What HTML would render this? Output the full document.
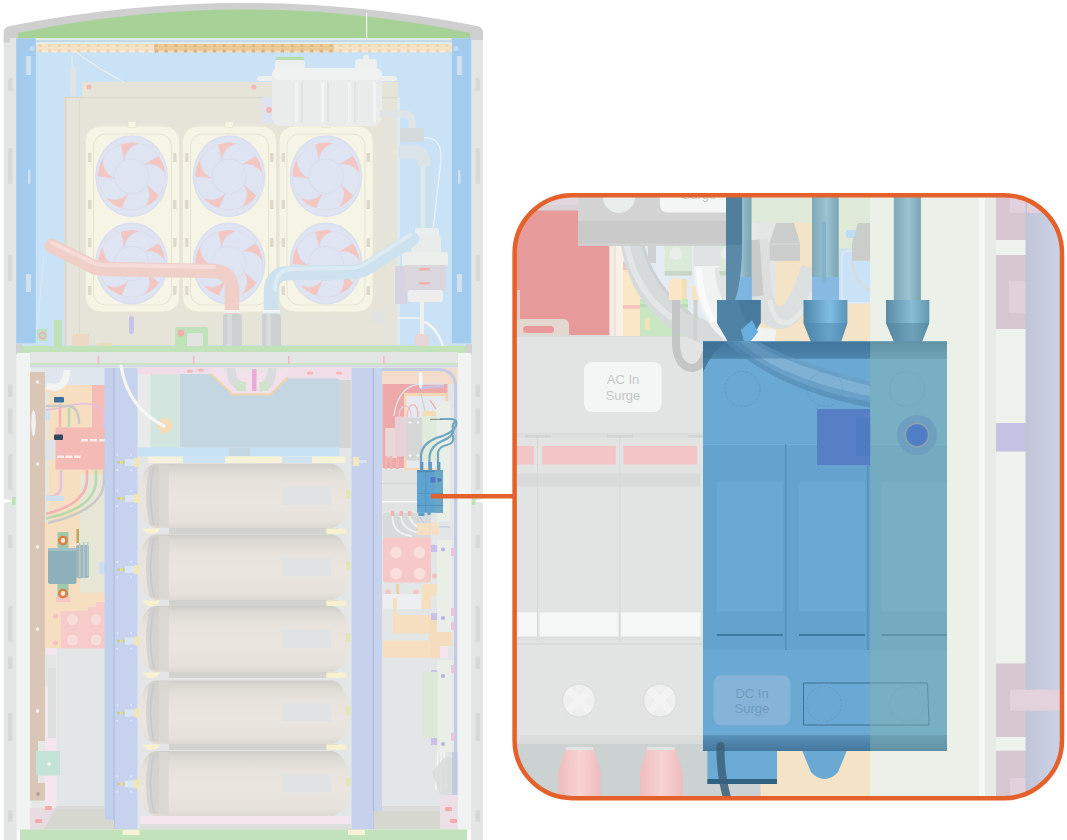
<!DOCTYPE html>
<html>
<head>
<meta charset="utf-8">
<title>DC In Surge</title>
<style>
html,body{margin:0;padding:0;background:#fff;}
body{width:1067px;height:840px;overflow:hidden;font-family:"Liberation Sans",sans-serif;}
svg{display:block;}
text{font-family:"Liberation Sans",sans-serif;}
</style>
</head>
<body>
<svg width="1067" height="840" viewBox="0 0 1067 840">
<defs>
  <clipPath id="callclip"><rect x="514.6" y="195.2" width="547.4" height="603" rx="58" ry="58"/></clipPath>
  <linearGradient id="tankg" x1="0" y1="0" x2="0" y2="1">
    <stop offset="0" stop-color="#cfcdc8"/><stop offset="0.1" stop-color="#dcd9d3"/><stop offset="0.28" stop-color="#e7e3dc"/><stop offset="0.6" stop-color="#eae6df"/><stop offset="0.9" stop-color="#e6e2db"/><stop offset="1" stop-color="#dddad3"/>
  </linearGradient>
  <linearGradient id="cableg" x1="0" y1="0" x2="1" y2="0">
    <stop offset="0" stop-color="#7fa9b8"/><stop offset="0.55" stop-color="#9bc3d2"/><stop offset="1" stop-color="#7aa3b3"/>
  </linearGradient>
  <linearGradient id="ferg" x1="0" y1="0" x2="1" y2="0">
    <stop offset="0" stop-color="#4f86a8"/><stop offset="0.6" stop-color="#7fbde2"/><stop offset="1" stop-color="#5a93b6"/>
  </linearGradient>
  <linearGradient id="ferg3" x1="0" y1="0" x2="1" y2="0">
    <stop offset="0" stop-color="#5a8ba3"/><stop offset="0.6" stop-color="#88bdd6"/><stop offset="1" stop-color="#6397b0"/>
  </linearGradient>
  <linearGradient id="lavg" x1="0" y1="0" x2="1" y2="0">
    <stop offset="0" stop-color="#c0c5d6"/><stop offset="0.5" stop-color="#c6cde0"/><stop offset="1" stop-color="#ccd4e8"/>
  </linearGradient>
  <g id="fan">
    <ellipse rx="36.3" ry="41" fill="#d9dff0"/>
    <ellipse rx="35" ry="39.5" fill="#dfe4f2"/>
    <circle r="33.6" fill="#f4c6c2"/>
    <g fill="#dee4f2" stroke="#d8deee" stroke-width="0.5">
      <path d="M-7.0,-14.4 Q-6.5,-28.3 7.5,-32.6 A33.5,33.5 0 0 1 26.8,-20.2 L11.5,-11.1 Z" transform="rotate(0)"/>
      <path d="M-7.0,-14.4 Q-6.5,-28.3 7.5,-32.6 A33.5,33.5 0 0 1 26.8,-20.2 L11.5,-11.1 Z" transform="rotate(72)"/>
      <path d="M-7.0,-14.4 Q-6.5,-28.3 7.5,-32.6 A33.5,33.5 0 0 1 26.8,-20.2 L11.5,-11.1 Z" transform="rotate(144)"/>
      <path d="M-7.0,-14.4 Q-6.5,-28.3 7.5,-32.6 A33.5,33.5 0 0 1 26.8,-20.2 L11.5,-11.1 Z" transform="rotate(216)"/>
      <path d="M-7.0,-14.4 Q-6.5,-28.3 7.5,-32.6 A33.5,33.5 0 0 1 26.8,-20.2 L11.5,-11.1 Z" transform="rotate(288)"/>
    </g>
    <circle r="17.6" fill="#d6ddec"/>
    <circle r="16.8" fill="#dee4f2"/>
  </g>
  <linearGradient id="bandg" x1="0" y1="0" x2="0" y2="1"><stop offset="0" stop-color="#457a9f"/><stop offset="1" stop-color="#5a94bd"/></linearGradient>
  <linearGradient id="bandg2" x1="0" y1="0" x2="0" y2="1"><stop offset="0" stop-color="#5a92ba"/><stop offset="1" stop-color="#44779d"/></linearGradient>
  <linearGradient id="pinkg" x1="0" y1="0" x2="1" y2="0"><stop offset="0" stop-color="#efbcbd"/><stop offset="0.5" stop-color="#f7d3d3"/><stop offset="1" stop-color="#efbcbd"/></linearGradient>
</defs>
<rect width="1067" height="840" fill="#ffffff"/>

<!-- ================= CABINET ================= -->
<g id="cabinet">
  <!-- outer frame sides -->
  <rect x="3.700" y="36" width="13" height="804" fill="#e3e6e5"/>
  <rect x="471" y="36" width="12" height="804" fill="#e3e6e5"/>
  <!-- top arc gray -->
  <path d="M3.700,42.500 L3.700,31 Q4.500,27 10,26 Q243,-20 477,26 Q482,27 483,31 L483,40 L470,40 L470,34 Q243,-12 18,34 L18,38 L10,38 L10,42.500 Z" fill="#cfcfcf"/>
  <!-- green top -->
  <path d="M18,38 L18,33 Q243,-14 470,33 L470,38 Z" fill="#a6d197"/>
  <rect x="366" y="13" width="1.2" height="25" fill="#eef6ea"/>
  <!-- light blue background upper -->
  <rect x="16.200" y="38" width="455" height="308" fill="#c9e2f6"/>
  <rect x="16.200" y="38" width="455" height="2" fill="#e1ebf2"/><rect x="16.200" y="40" width="455" height="2.200" fill="#c5d9e8"/><rect x="16.200" y="42.200" width="455" height="2.300" fill="#e2ecf3"/>
  <!-- blue side columns -->
  <rect x="16.200" y="38.200" width="19.600" height="305" fill="#a3cbed"/>
  <rect x="451.800" y="38.200" width="19.400" height="305" fill="#a3cbed"/>
  <!-- tan strip -->
  <rect x="37" y="44" width="415" height="8" fill="#f6e1c2"/>
  <rect x="154" y="44" width="180" height="8" fill="#ecca98"/>
  <g fill="#e9d3b3"><rect x="38.5" y="44.500" width="3" height="2"/><rect x="38.5" y="49.500" width="3" height="3"/><rect x="48.2" y="44.500" width="3" height="2"/><rect x="48.2" y="49.500" width="3" height="3"/><rect x="57.9" y="44.500" width="3" height="2"/><rect x="57.9" y="49.500" width="3" height="3"/><rect x="67.6" y="44.500" width="3" height="2"/><rect x="67.6" y="49.500" width="3" height="3"/><rect x="77.3" y="44.500" width="3" height="2"/><rect x="77.3" y="49.500" width="3" height="3"/><rect x="87.0" y="44.500" width="3" height="2"/><rect x="87.0" y="49.500" width="3" height="3"/><rect x="96.7" y="44.500" width="3" height="2"/><rect x="96.7" y="49.500" width="3" height="3"/><rect x="106.4" y="44.500" width="3" height="2"/><rect x="106.4" y="49.500" width="3" height="3"/><rect x="116.1" y="44.500" width="3" height="2"/><rect x="116.1" y="49.500" width="3" height="3"/><rect x="125.8" y="44.500" width="3" height="2"/><rect x="125.8" y="49.500" width="3" height="3"/><rect x="135.5" y="44.500" width="3" height="2"/><rect x="135.5" y="49.500" width="3" height="3"/><rect x="145.2" y="44.500" width="3" height="2"/><rect x="145.2" y="49.500" width="3" height="3"/></g><g fill="#f3ece2"><rect x="42.0" y="50.500" width="5.500" height="2"/><rect x="51.7" y="50.500" width="5.500" height="2"/><rect x="61.4" y="50.500" width="5.500" height="2"/><rect x="71.1" y="50.500" width="5.500" height="2"/><rect x="80.8" y="50.500" width="5.500" height="2"/><rect x="90.5" y="50.500" width="5.500" height="2"/><rect x="100.2" y="50.500" width="5.500" height="2"/><rect x="109.9" y="50.500" width="5.500" height="2"/><rect x="119.6" y="50.500" width="5.500" height="2"/><rect x="129.3" y="50.500" width="5.500" height="2"/><rect x="139.0" y="50.500" width="5.500" height="2"/><rect x="148.7" y="50.500" width="5.500" height="2"/></g>
  <g fill="#d9b27e"><rect x="154.9" y="44.500" width="3" height="2"/><rect x="154.9" y="49.500" width="3" height="3"/><rect x="164.6" y="44.500" width="3" height="2"/><rect x="164.6" y="49.500" width="3" height="3"/><rect x="174.3" y="44.500" width="3" height="2"/><rect x="174.3" y="49.500" width="3" height="3"/><rect x="184.0" y="44.500" width="3" height="2"/><rect x="184.0" y="49.500" width="3" height="3"/><rect x="193.7" y="44.500" width="3" height="2"/><rect x="193.7" y="49.500" width="3" height="3"/><rect x="203.4" y="44.500" width="3" height="2"/><rect x="203.4" y="49.500" width="3" height="3"/><rect x="213.1" y="44.500" width="3" height="2"/><rect x="213.1" y="49.500" width="3" height="3"/><rect x="222.8" y="44.500" width="3" height="2"/><rect x="222.8" y="49.500" width="3" height="3"/><rect x="232.5" y="44.500" width="3" height="2"/><rect x="232.5" y="49.500" width="3" height="3"/><rect x="242.2" y="44.500" width="3" height="2"/><rect x="242.2" y="49.500" width="3" height="3"/><rect x="251.9" y="44.500" width="3" height="2"/><rect x="251.9" y="49.500" width="3" height="3"/><rect x="261.6" y="44.500" width="3" height="2"/><rect x="261.6" y="49.500" width="3" height="3"/><rect x="271.3" y="44.500" width="3" height="2"/><rect x="271.3" y="49.500" width="3" height="3"/><rect x="281.0" y="44.500" width="3" height="2"/><rect x="281.0" y="49.500" width="3" height="3"/><rect x="290.7" y="44.500" width="3" height="2"/><rect x="290.7" y="49.500" width="3" height="3"/><rect x="300.4" y="44.500" width="3" height="2"/><rect x="300.4" y="49.500" width="3" height="3"/><rect x="310.1" y="44.500" width="3" height="2"/><rect x="310.1" y="49.500" width="3" height="3"/><rect x="319.8" y="44.500" width="3" height="2"/><rect x="319.8" y="49.500" width="3" height="3"/><rect x="329.5" y="44.500" width="3" height="2"/><rect x="329.5" y="49.500" width="3" height="3"/></g><g fill="#f0dcbc"><rect x="158.4" y="50.500" width="5.500" height="2"/><rect x="168.1" y="50.500" width="5.500" height="2"/><rect x="177.8" y="50.500" width="5.500" height="2"/><rect x="187.5" y="50.500" width="5.500" height="2"/><rect x="197.2" y="50.500" width="5.500" height="2"/><rect x="206.9" y="50.500" width="5.500" height="2"/><rect x="216.6" y="50.500" width="5.500" height="2"/><rect x="226.3" y="50.500" width="5.500" height="2"/><rect x="236.0" y="50.500" width="5.500" height="2"/><rect x="245.7" y="50.500" width="5.500" height="2"/><rect x="255.4" y="50.500" width="5.500" height="2"/><rect x="265.1" y="50.500" width="5.500" height="2"/><rect x="274.8" y="50.500" width="5.500" height="2"/><rect x="284.5" y="50.500" width="5.500" height="2"/><rect x="294.2" y="50.500" width="5.500" height="2"/><rect x="303.9" y="50.500" width="5.500" height="2"/><rect x="313.6" y="50.500" width="5.500" height="2"/><rect x="323.3" y="50.500" width="5.500" height="2"/></g>
  <g fill="#e9d3b3"><rect x="339.0" y="44.500" width="3" height="2"/><rect x="339.0" y="49.500" width="3" height="3"/><rect x="348.7" y="44.500" width="3" height="2"/><rect x="348.7" y="49.500" width="3" height="3"/><rect x="358.4" y="44.500" width="3" height="2"/><rect x="358.4" y="49.500" width="3" height="3"/><rect x="368.1" y="44.500" width="3" height="2"/><rect x="368.1" y="49.500" width="3" height="3"/><rect x="377.8" y="44.500" width="3" height="2"/><rect x="377.8" y="49.500" width="3" height="3"/><rect x="387.5" y="44.500" width="3" height="2"/><rect x="387.5" y="49.500" width="3" height="3"/><rect x="397.2" y="44.500" width="3" height="2"/><rect x="397.2" y="49.500" width="3" height="3"/><rect x="406.9" y="44.500" width="3" height="2"/><rect x="406.9" y="49.500" width="3" height="3"/><rect x="416.6" y="44.500" width="3" height="2"/><rect x="416.6" y="49.500" width="3" height="3"/><rect x="426.3" y="44.500" width="3" height="2"/><rect x="426.3" y="49.500" width="3" height="3"/><rect x="436.0" y="44.500" width="3" height="2"/><rect x="436.0" y="49.500" width="3" height="3"/><rect x="445.7" y="44.500" width="3" height="2"/><rect x="445.7" y="49.500" width="3" height="3"/></g><g fill="#f3ece2"><rect x="342.5" y="50.500" width="5.500" height="2"/><rect x="352.2" y="50.500" width="5.500" height="2"/><rect x="361.9" y="50.500" width="5.500" height="2"/><rect x="371.6" y="50.500" width="5.500" height="2"/><rect x="381.3" y="50.500" width="5.500" height="2"/><rect x="391.0" y="50.500" width="5.500" height="2"/><rect x="400.7" y="50.500" width="5.500" height="2"/><rect x="410.4" y="50.500" width="5.500" height="2"/><rect x="420.1" y="50.500" width="5.500" height="2"/><rect x="429.8" y="50.500" width="5.500" height="2"/><rect x="439.5" y="50.500" width="5.500" height="2"/></g>

  <!-- radiator plate -->
  <rect x="82" y="82" width="316" height="20" fill="#e6e4d8"/>
  <rect x="64.5" y="97" width="333" height="248" fill="#e6e4d8"/>
  <rect x="64.5" y="97" width="333" height="1.2" fill="#d9d7cb"/>
  <rect x="64.5" y="97" width="2" height="248" fill="#dad8cf"/>
  <rect x="79" y="100" width="1" height="240" fill="#dcdad0"/>
  <circle cx="89" cy="87" r="2.6" fill="#f2b9b6"/>
  <circle cx="254" cy="87" r="2.6" fill="#f2b9b6"/>
  <!-- fan frames -->
  <g fill="#f6f4e4" stroke="#e9e6d2" stroke-width="1">
    <rect x="85.5" y="126" width="94" height="186" rx="16" ry="14"/>
    <rect x="182.5" y="126" width="94" height="186" rx="16" ry="14"/>
    <rect x="279" y="126" width="94" height="186" rx="16" ry="14"/>
  </g>
  <g fill="none" stroke="#e6e3d0" stroke-width="1">
    <rect x="93.5" y="134" width="78" height="171" rx="12" ry="12"/>
    <rect x="190.5" y="134" width="78" height="171" rx="12" ry="12"/>
    <rect x="287" y="134" width="78" height="171" rx="12" ry="12"/>
  </g>
  <g fill="#ddd9cc">
    <rect x="88" y="153" width="3.5" height="9"/><rect x="173" y="153" width="3.5" height="9"/>
    <rect x="88" y="200" width="3.5" height="9"/><rect x="173" y="200" width="3.5" height="9"/>
    <rect x="88" y="238" width="3.5" height="9"/><rect x="173" y="238" width="3.5" height="9"/>
    <rect x="88" y="286" width="3.5" height="9"/><rect x="173" y="286" width="3.5" height="9"/>
    <rect x="185" y="153" width="3.5" height="9"/><rect x="270" y="153" width="3.5" height="9"/>
    <rect x="185" y="200" width="3.5" height="9"/><rect x="270" y="200" width="3.5" height="9"/>
    <rect x="185" y="238" width="3.5" height="9"/><rect x="270" y="238" width="3.5" height="9"/>
    <rect x="185" y="286" width="3.5" height="9"/><rect x="270" y="286" width="3.5" height="9"/>
    <rect x="281.5" y="153" width="3.5" height="9"/><rect x="366.5" y="153" width="3.5" height="9"/>
    <rect x="281.5" y="200" width="3.5" height="9"/><rect x="366.5" y="200" width="3.5" height="9"/>
    <rect x="281.5" y="238" width="3.5" height="9"/><rect x="366.5" y="238" width="3.5" height="9"/>
    <rect x="281.5" y="286" width="3.5" height="9"/><rect x="366.5" y="286" width="3.5" height="9"/>
  </g>
  <g fill="#f6f4e4" stroke="#e6e3d0" stroke-width="0.800"><rect x="128" y="121.500" width="8" height="6"/><rect x="225" y="121.500" width="8" height="6"/><rect x="322" y="121.500" width="8" height="6"/></g>
  <!-- fans -->
  <use href="#fan" x="131.6" y="176.2"/>
  <use href="#fan" x="229" y="176.2"/>
  <use href="#fan" x="326" y="176.2"/>
  <use href="#fan" x="131.6" y="263.5"/>
  <use href="#fan" x="229" y="263.5"/>
  <use href="#fan" x="326" y="263.5"/>
  <!-- expansion tank -->
  <rect x="262" y="97" width="14" height="26" rx="2" fill="#dfe3f0"/>
  <circle cx="269" cy="110" r="3" fill="#f2b9b6"/>
  <rect x="276" y="57" width="28" height="4" rx="1.5" fill="#b5ddb0"/>
  <rect x="275" y="60" width="30" height="10" rx="3" fill="#ecefed"/>
  <rect x="355" y="59" width="22" height="11" rx="3" fill="#ecefed"/>
  <rect x="363" y="55" width="6" height="6" rx="2" fill="#eef0ef"/>
  <rect x="257" y="76" width="140" height="5" rx="2.5" fill="#eef0ee"/>
  <rect x="272" y="68" width="110" height="58" rx="9" ry="9" fill="#eaeceb"/>
  <rect x="272" y="68" width="110" height="12" rx="6" fill="#f0f2f1"/>
  <g fill="#dfe2e1"><rect x="301" y="82" width="2" height="40"/><rect x="327" y="82" width="2" height="40"/><rect x="354" y="82" width="2" height="40"/></g>
  <g fill="#f2f4f3"><rect x="295" y="82" width="3" height="40"/><rect x="321" y="82" width="3" height="40"/><rect x="348" y="82" width="3" height="40"/><rect x="373" y="82" width="3" height="40"/></g>
  <!-- pipe on right side -->
  <rect x="397" y="97" width="3" height="248" fill="#dfe9f0"/>
  <path d="M380,114 L404,114 Q412,114 412,122 L412,140" fill="none" stroke="#dfe4e6" stroke-width="7"/>
  <rect x="400" y="128" width="24" height="14" rx="3" fill="#d4d9dc"/>
  <path d="M424.500,160 L424.500,232" fill="none" stroke="#cbe0ea" stroke-width="15.500"/>
  <path d="M423,160 L423,232" fill="none" stroke="#d9e9f0" stroke-width="5"/>
  <path d="M398,152 L415,152 Q424.500,153 424.500,166" fill="none" stroke="#dbe3e6" stroke-width="13"/>
  <path d="M424,138 Q442,136 441,160 L433,230" fill="none" stroke="#f0f3f5" stroke-width="1.2"/>
  <!-- filter -->
  <rect x="415" y="228" width="24" height="8" rx="2" fill="#e9eeee"/>
  <rect x="411" y="234" width="30" height="20" rx="4" fill="#e8ecea"/>
  <rect x="402" y="252" width="46" height="14" rx="2" fill="#eceeec"/>
  <rect x="395" y="266" width="12" height="38" fill="#d6d3e2"/>
  <rect x="405" y="265" width="41" height="26" fill="#d9d6de"/>
  <rect x="408" y="290" width="35" height="12" rx="2" fill="#ecedec"/>
  <g fill="#f2b0ac"><rect x="419" y="268" width="11" height="2.6" rx="1.3"/><rect x="419" y="282" width="11" height="2.6" rx="1.3"/></g>
  <rect x="420" y="302" width="4" height="42" fill="#eef0f0"/>
  <path d="M424,322 Q436,326 443,346" fill="none" stroke="#f3f3f1" stroke-width="2.5"/>
  <path d="M398,318 L422,318" fill="none" stroke="#f3f3f1" stroke-width="1.5"/>
  <rect x="415" y="334" width="14" height="12" rx="2" fill="#e7d6d6"/>
  <!-- red hose -->
  <path d="M52,246 L92,266 Q98,269 106,269 L214,271 Q232,272 232,290 L232,312" fill="none" stroke="#f0cfc9" stroke-width="14.5" stroke-linecap="round"/>
  <path d="M52,243 L94,263 Q99,265 106,265 L214,267" fill="none" stroke="#f5dcd7" stroke-width="4" stroke-linecap="round"/>
  <!-- blue hose -->
  <path d="M271,312 L271,292 Q271,273 290,273 L352,272 Q362,272 370,266 L412,239" fill="none" stroke="#cde2ee" stroke-width="14.5" stroke-linecap="round"/>
  <path d="M275,290 Q275,269 292,269 L352,268 Q360,268 368,262 L410,235" fill="none" stroke="#dcebf3" stroke-width="4" stroke-linecap="round"/>
  <!-- hose couplers -->
  <rect x="224" y="310" width="17" height="3" fill="#f2efee"/>
  <rect x="263" y="310" width="17" height="3" fill="#eef3f5"/>
  <rect x="223" y="314" width="19" height="34" rx="3" fill="#cdd1d1"/>
  <rect x="262" y="314" width="19" height="34" rx="3" fill="#cdd1d1"/>
  <rect x="227" y="314" width="5" height="34" fill="#d8dbdb"/>
  <rect x="266" y="314" width="5" height="34" fill="#d8dbdb"/>
  <!-- small parts near bottom of plate -->
  <rect x="175" y="327" width="33" height="19" rx="2" fill="#c0e2b9"/>
  <rect x="187" y="333" width="16" height="14" rx="2" fill="#e2e4e2"/>
  <circle cx="181" cy="333" r="3.4" fill="#f2aeb0"/>
  <rect x="129" y="316" width="5" height="18" rx="2.5" fill="#c7c3ea"/>
  <rect x="372" y="311" width="12" height="12" fill="#e1e3e2"/>
  <rect x="72" y="334" width="17" height="14" fill="#ecd9c4"/>
  <rect x="97" y="343" width="16" height="7" rx="1" fill="#e7dcbc"/>
  <rect x="54" y="320" width="8" height="28" fill="#bfe1b6"/>
  <rect x="37" y="329" width="10" height="12" fill="#bfe1b6"/>
  <circle cx="42.500" cy="335.500" r="3" fill="none" stroke="#e9a9cf" stroke-width="1.3"/>
  <path d="M72,76 L72,56" stroke="#e4e8ea" stroke-width="1.4"/>
  <rect x="70" y="66" width="6" height="30" rx="2.5" fill="#e1e4e6"/>
  <path d="M76,52 Q100,70 124,82" fill="none" stroke="#eaeeee" stroke-width="1.1"/>
  <path d="M44,256 L37,330" stroke="#dde6ea" stroke-width="1.2"/>
  <!-- slots in blue columns -->
  <g fill="#cfe0ef"><rect x="26" y="56" width="5" height="19" /><rect x="26" y="274" width="5" height="18"/><rect x="28" y="170" width="2.5" height="14" rx="1.2"/>
  <rect x="457" y="56" width="5" height="19"/><rect x="457" y="274" width="5" height="18"/><rect x="458" y="170" width="2.5" height="14" rx="1.2"/></g>
  <circle cx="32" cy="48.500" r="2.5" fill="#c4dcf2"/><circle cx="456" cy="48.500" r="2.5" fill="#c4dcf2"/>
  <!-- slots in gray frame -->
  <g fill="#d6d9d8"><rect x="8" y="78" width="4.500" height="13" rx="1.5"/><rect x="8" y="148" width="4.500" height="36" rx="1.5"/><rect x="8" y="255" width="4.500" height="26" rx="1.5"/>
  <rect x="475.500" y="78" width="4.500" height="13" rx="1.5"/><rect x="475.500" y="148" width="4.500" height="36" rx="1.5"/><rect x="475.500" y="255" width="4.500" height="26" rx="1.5"/></g>
  <!-- green & gray shelf -->
  <rect x="20" y="346" width="450" height="7" fill="#c2e2ba"/>
  <rect x="16" y="344" width="6" height="10" fill="#d0d3d0"/>
  <rect x="466" y="344" width="6" height="10" fill="#d0d3d0"/>

  <!-- ===== lower section ===== -->
  <rect x="17" y="353" width="454" height="477" fill="#e5e8e7"/>
  <rect x="17" y="353" width="13.5" height="477" fill="#f1f3f2"/>
  <rect x="457.5" y="353" width="13.5" height="477" fill="#f1f3f2"/>
  <rect x="30" y="352" width="428" height="11" fill="#e2e5e3"/>
  <rect x="30" y="363" width="428" height="2.2" fill="#c9e5c2"/>
  <rect x="30" y="365.2" width="428" height="2" fill="#d3d8e8"/>
  <g fill="#f0b9c6"><rect x="97.500" y="356" width="1.600" height="8"/><rect x="193" y="356" width="1.600" height="8"/><rect x="288" y="356" width="1.600" height="8"/><rect x="383" y="356" width="1.600" height="8"/></g>
  <!-- left area -->
  <rect x="45" y="368" width="60" height="20" fill="#dfe6ee"/>
  <rect x="45" y="385" width="60" height="264" fill="#f6dfc0"/>
  <rect x="45" y="392" width="4" height="130" fill="#e6e7da"/><rect x="45" y="408" width="5" height="12" fill="#cfe1f0"/><rect x="45" y="440" width="10" height="20" fill="#e0e3e6"/>
  <rect x="80" y="474.500" width="25" height="118" fill="#e6e6d7"/>
  <rect x="56" y="648" width="49" height="160" fill="#e3e6e6"/>
  <rect x="45" y="648" width="11.500" height="160" fill="#f5e6ee"/>
  <rect x="45" y="655" width="11" height="32" rx="2" fill="#e3e5e4"/>
  <rect x="48" y="668" width="8" height="70" fill="#dcdfde"/>
  <!-- brown bar -->
  <path d="M30,372 L45,372 L45,741 L38,741 L38,783 L45,783 L45,800.500 L30,800.500 Z" fill="#d9c6b6"/>
  <g fill="#f3f1f0"><ellipse cx="37.500" cy="382" rx="1.800" ry="1.800"/><ellipse cx="33.500" cy="423" rx="2.300" ry="13"/><ellipse cx="37.500" cy="464" rx="1.800" ry="1.800"/><ellipse cx="37.500" cy="547" rx="1.800" ry="1.800"/><ellipse cx="37.500" cy="629" rx="1.800" ry="1.800"/><ellipse cx="37.500" cy="711" rx="1.800" ry="1.800"/></g>
  <circle cx="38" cy="794" r="1.700" fill="#a99a90"/>
  <rect x="36" y="751" width="24" height="24.500" fill="#c4e3d6"/>
  <circle cx="49" cy="764" r="1.700" fill="#f2f6f4"/>
  <!-- red module left -->
  <rect x="92" y="385" width="13" height="44" fill="#f5bcb7"/>
  <rect x="55.500" y="427.500" width="49.500" height="42" fill="#f4bab5"/>
  <g fill="#f9ebe8"><rect x="81" y="439" width="7" height="2.500"/><rect x="90" y="439" width="7" height="2.500"/><rect x="99" y="439" width="6" height="2.500"/><rect x="57" y="455.500" width="7" height="2.500"/><rect x="65.500" y="455.500" width="7" height="2.500"/><rect x="74" y="455.500" width="7" height="2.500"/></g>
  <rect x="54" y="397" width="10" height="5.500" rx="1" fill="#3c6fa0"/><rect x="54" y="434.500" width="9" height="5.500" rx="1" fill="#33475f"/>
  <path d="M46,410 L60,408 Q96,398 103,412 L103,428" fill="none" stroke="#e3bfe0" stroke-width="1.600"/>
  <path d="M60,427 L60,404" fill="none" stroke="#f1b4b4" stroke-width="2.400"/><path d="M69,427 L69,408" fill="none" stroke="#b9d8ad" stroke-width="2.400"/><path d="M79,424 Q79,408 70,406 L46,406" fill="none" stroke="#c9c9c7" stroke-width="2.400"/>
  <path d="M46,386 Q66,392 67,370" fill="none" stroke="#f2f3f3" stroke-width="7"/>
  <path d="M61,470 L61,488 Q59,497 46,497" fill="none" stroke="#e3bfe0" stroke-width="2.400"/>
  <path d="M87,470 L87,478 Q88,503 46,514" fill="none" stroke="#f1b4b4" stroke-width="2.600"/>
  <path d="M96,470 L96,480 Q96,508 46,518.500" fill="none" stroke="#b9d8ad" stroke-width="2.600"/>
  <path d="M104,470 L104,482 Q103,510 48,523" fill="none" stroke="#c9c9c7" stroke-width="2.600"/>
  <rect x="46" y="496" width="18" height="5" fill="#cfe1f0"/>
  <!-- contactor -->
  <rect x="57.500" y="532" width="11" height="20" fill="#9ec9ab"/><rect x="57.500" y="582" width="11" height="20" fill="#9ec9ab"/>
  <rect x="56" y="597" width="14" height="5" fill="#f5c9c2"/>
  <circle cx="63" cy="540.500" r="3.600" fill="#f6e7da" stroke="#e07c3d" stroke-width="2.400"/>
  <circle cx="63" cy="593.500" r="3.600" fill="#f6e7da" stroke="#e07c3d" stroke-width="2.400"/>
  <rect x="76.500" y="529" width="2.400" height="14" fill="#b3a85f"/>
  <g fill="#9db6bd"><rect x="76" y="545" width="13" height="33" rx="2"/></g>
  <g fill="#b4c7cc"><rect x="79" y="543" width="1.500" height="36"/><rect x="83" y="542" width="1.500" height="36"/><rect x="87" y="542" width="1.500" height="34"/></g>
  <rect x="48" y="548" width="28.500" height="36" rx="2" fill="#8eb0bb"/>
  <rect x="48" y="548" width="28.500" height="3" rx="1.500" fill="#a2c0c8"/>
  <rect x="99" y="562" width="6" height="12" rx="1" fill="#c9def2"/>
  <!-- pink block left -->
  <rect x="61" y="611" width="44" height="37.500" fill="#f6cbc9"/>
  <path d="M88,611 L88,607 L96,607 L96,602 L105,602 L105,611 Z" fill="#f6cbc9"/>
  <g fill="#f8dcda" stroke="#f3c3c1" stroke-width="0.600"><circle cx="72.500" cy="619.500" r="6"/><circle cx="96" cy="619.500" r="6"/><circle cx="72.500" cy="640" r="6"/><circle cx="96" cy="640" r="6"/></g>
  <g fill="#f4c2c3"><circle cx="55.500" cy="616" r="2.600"/><circle cx="55.500" cy="643" r="2.600"/></g>
  <!-- center bay -->
  <rect x="138" y="367" width="213" height="463" fill="#e4e5e6"/>
  <rect x="138" y="368" width="12" height="80" fill="#e9eaea"/>
  <rect x="150.500" y="370" width="29" height="78" fill="#d3e5df"/>
  <circle cx="165" cy="425.500" r="7.500" fill="#f3dcb6"/>
  <rect x="138" y="367.500" width="213" height="7" fill="#f1dde8"/>
  <rect x="288" y="367.500" width="63" height="11" fill="#f1dde8"/>
  <rect x="180" y="374" width="159" height="73.500" fill="#c3d6e2"/>
  <rect x="288" y="374" width="51" height="4.500" fill="#f1dde8"/>
  <path d="M211,374 L232.500,394.500 L270.500,394.500 L288,377 L288,368 L211,368 Z" fill="#f2e0ea"/>
  <path d="M211,374 L232.500,394.500 L270.500,394.500 L288,377" fill="none" stroke="#f0d3ac" stroke-width="2"/>
  <rect x="222" y="368" width="62" height="4" fill="#e9e4e6"/>
  <path d="M231,368 Q231,386 246,387" fill="none" stroke="#d9dcdd" stroke-width="9"/>
  <path d="M272,368 Q272,386 260,387" fill="none" stroke="#d9dcdd" stroke-width="9"/>
  <rect x="252" y="369" width="4.500" height="22" fill="#e6abd8"/>
  <rect x="236" y="382" width="10" height="9" fill="#cbe6c4" opacity="0.700"/><rect x="259" y="382" width="10" height="9" fill="#cbe6c4" opacity="0.700"/>
  <g fill="#f3b7b6"><ellipse cx="190" cy="371" rx="3" ry="1.500"/><ellipse cx="201" cy="370" rx="3" ry="1.500"/><ellipse cx="310" cy="373" rx="3" ry="1.500"/><ellipse cx="339" cy="373" rx="3" ry="1.500"/></g>
  <rect x="339" y="380" width="11.500" height="68" fill="#d3d4d3"/>
  <rect x="138" y="447.500" width="91" height="9" fill="#c5e1f3"/>
  <rect x="250" y="447.500" width="89" height="9" fill="#c5e1f3"/>
  <rect x="229" y="448" width="21" height="8" fill="#c3d6e2"/>
  <rect x="148" y="456.500" width="35" height="6.500" fill="#f4f2dc"/>
  <rect x="183" y="456.500" width="42" height="6.500" fill="#cfe3f2"/>
  <rect x="225" y="456.500" width="120" height="6.500" fill="#f7f3d9"/>
  <rect x="282" y="456.500" width="30" height="6.500" fill="#cfe3f2"/>
  <!-- tanks -->
  <rect x="139.500" y="463.8" width="208.500" height="64.19999999999999" rx="17" ry="27" fill="url(#tankg)"/>
  <path d="M150,466.8 Q142,495.9 150,525 L168.500,527.5 L168.500,464.3 Z" fill="#d0cec9" opacity="0.750"/>
  <path d="M154,466.8 Q147,495.9 154,525" fill="none" stroke="#c6cad6" stroke-width="2"/>
  <rect x="159" y="464.8" width="9.500" height="62.19999999999999" fill="#dcdad4" opacity="0.700"/>
  <rect x="282" y="486.9" width="49.500" height="18" fill="#dfe3e3"/>
  <rect x="169" y="528" width="170" height="6" fill="#d2d2cf"/>
  <path d="M143,528.5 L160,528.5 Q158,534 151,534 Q145,534 143,528.5 Z" fill="#f6f2d0"/>
  <rect x="326" y="528.5" width="20" height="5.500" rx="2" fill="#f6f2d0"/>
  <rect x="346" y="489.9" width="4.500" height="9" fill="#e4e6b4"/>
  <rect x="139.500" y="534.5" width="208.500" height="65.5" rx="17" ry="27" fill="url(#tankg)"/>
  <path d="M150,537.5 Q142,567.25 150,597 L168.500,599.5 L168.500,535.0 Z" fill="#d0cec9" opacity="0.750"/>
  <path d="M154,537.5 Q147,567.25 154,597" fill="none" stroke="#c6cad6" stroke-width="2"/>
  <rect x="159" y="535.5" width="9.500" height="63.5" fill="#dcdad4" opacity="0.700"/>
  <rect x="282" y="558.25" width="49.500" height="18" fill="#dfe3e3"/>
  <rect x="169" y="600" width="170" height="6" fill="#d2d2cf"/>
  <path d="M143,600.5 L160,600.5 Q158,606 151,606 Q145,606 143,600.5 Z" fill="#f6f2d0"/>
  <rect x="326" y="600.5" width="20" height="5.500" rx="2" fill="#f6f2d0"/>
  <rect x="346" y="561.25" width="4.500" height="9" fill="#e4e6b4"/>
  <rect x="139.500" y="606" width="208.500" height="66" rx="17" ry="27" fill="url(#tankg)"/>
  <path d="M150,609 Q142,639.0 150,669 L168.500,671.5 L168.500,606.5 Z" fill="#d0cec9" opacity="0.750"/>
  <path d="M154,609 Q147,639.0 154,669" fill="none" stroke="#c6cad6" stroke-width="2"/>
  <rect x="159" y="607" width="9.500" height="64" fill="#dcdad4" opacity="0.700"/>
  <rect x="282" y="630.0" width="49.500" height="18" fill="#dfe3e3"/>
  <rect x="169" y="672" width="170" height="6" fill="#d2d2cf"/>
  <path d="M143,672.5 L160,672.5 Q158,678 151,678 Q145,678 143,672.5 Z" fill="#f6f2d0"/>
  <rect x="326" y="672.5" width="20" height="5.500" rx="2" fill="#f6f2d0"/>
  <rect x="346" y="633.0" width="4.500" height="9" fill="#e4e6b4"/>
  <rect x="139.500" y="680.5" width="208.500" height="63.5" rx="17" ry="27" fill="url(#tankg)"/>
  <path d="M150,683.5 Q142,712.25 150,741 L168.500,743.5 L168.500,681.0 Z" fill="#d0cec9" opacity="0.750"/>
  <path d="M154,683.5 Q147,712.25 154,741" fill="none" stroke="#c6cad6" stroke-width="2"/>
  <rect x="159" y="681.5" width="9.500" height="61.5" fill="#dcdad4" opacity="0.700"/>
  <rect x="282" y="703.25" width="49.500" height="18" fill="#dfe3e3"/>
  <rect x="169" y="744" width="170" height="6" fill="#d2d2cf"/>
  <path d="M143,744.5 L160,744.5 Q158,750 151,750 Q145,750 143,744.5 Z" fill="#f6f2d0"/>
  <rect x="326" y="744.5" width="20" height="5.500" rx="2" fill="#f6f2d0"/>
  <rect x="346" y="706.25" width="4.500" height="9" fill="#e4e6b4"/>
  <rect x="139.500" y="751" width="208.500" height="65" rx="17" ry="27" fill="url(#tankg)"/>
  <path d="M150,754 Q142,783.5 150,813 L168.500,815.5 L168.500,751.5 Z" fill="#d0cec9" opacity="0.750"/>
  <path d="M154,754 Q147,783.5 154,813" fill="none" stroke="#c6cad6" stroke-width="2"/>
  <rect x="159" y="752" width="9.500" height="63" fill="#dcdad4" opacity="0.700"/>
  <rect x="282" y="774.5" width="49.500" height="18" fill="#dfe3e3"/>
  <rect x="169" y="816" width="170" height="6" fill="#d2d2cf"/>
  <path d="M143,816.5 L160,816.5 Q158,822 151,822 Q145,822 143,816.5 Z" fill="#f6f2d0"/>
  <rect x="326" y="816.5" width="20" height="5.500" rx="2" fill="#f6f2d0"/>
  <rect x="346" y="777.5" width="4.500" height="9" fill="#e4e6b4"/>
  <rect x="140" y="816" width="211" height="8" fill="#f5e5ef"/>
  <rect x="140" y="824" width="211" height="5" fill="#dcdedc"/>
  <!-- purple columns -->
  <rect x="104.600" y="368" width="9.400" height="452.500" fill="#c2cfed"/>
  <rect x="114" y="368" width="23.600" height="461" fill="#c7d3ee"/>
  <rect x="113.600" y="368" width="0.900" height="461" fill="#a9b6d6"/>
  <rect x="351.500" y="368" width="22" height="461" fill="#c5d1ed"/>
  <rect x="373.500" y="368" width="8.500" height="453" fill="#c8d4ee"/>
  <rect x="373" y="368" width="0.900" height="461" fill="#a9b6d6"/>

  <path d="M121,366 Q128,408 164,426" fill="none" stroke="#f6f6f4" stroke-width="3.200" stroke-linecap="round"/>
  <rect x="117" y="461.2" width="3" height="2.600" fill="#b9d69a"/><rect x="120" y="461.2" width="3" height="2.600" fill="#f0d690"/><rect x="123" y="461.2" width="2.500" height="2.600" fill="#b9d69a"/><rect x="125" y="459.0" width="10" height="7" fill="#dde4f3"/><rect x="134.500" y="458.0" width="5" height="9" fill="#f2e6b0"/>
  <g fill="#e6ecf8"><rect x="116.500" y="454.0" width="1.500" height="1.500"/><rect x="130.500" y="454.0" width="1.500" height="1.500"/><rect x="116.500" y="469.5" width="1.500" height="1.500"/><rect x="130.500" y="469.5" width="1.500" height="1.500"/></g>
  <rect x="117" y="497.2" width="3" height="2.600" fill="#b9d69a"/><rect x="120" y="497.2" width="3" height="2.600" fill="#f0d690"/><rect x="123" y="497.2" width="2.500" height="2.600" fill="#b9d69a"/><rect x="125" y="495.0" width="10" height="7" fill="#dde4f3"/><rect x="134.500" y="494.0" width="5" height="9" fill="#f2e6b0"/>
  <g fill="#e6ecf8"><rect x="116.500" y="490.0" width="1.500" height="1.500"/><rect x="130.500" y="490.0" width="1.500" height="1.500"/><rect x="116.500" y="505.5" width="1.500" height="1.500"/><rect x="130.500" y="505.5" width="1.500" height="1.500"/></g>
  <rect x="117" y="568.2" width="3" height="2.600" fill="#b9d69a"/><rect x="120" y="568.2" width="3" height="2.600" fill="#f0d690"/><rect x="123" y="568.2" width="2.500" height="2.600" fill="#b9d69a"/><rect x="125" y="566.0" width="10" height="7" fill="#dde4f3"/><rect x="134.500" y="565.0" width="5" height="9" fill="#f2e6b0"/>
  <g fill="#e6ecf8"><rect x="116.500" y="561.0" width="1.500" height="1.500"/><rect x="130.500" y="561.0" width="1.500" height="1.500"/><rect x="116.500" y="576.5" width="1.500" height="1.500"/><rect x="130.500" y="576.5" width="1.500" height="1.500"/></g>
  <rect x="117" y="639.7" width="3" height="2.600" fill="#b9d69a"/><rect x="120" y="639.7" width="3" height="2.600" fill="#f0d690"/><rect x="123" y="639.7" width="2.500" height="2.600" fill="#b9d69a"/><rect x="125" y="637.5" width="10" height="7" fill="#dde4f3"/><rect x="134.500" y="636.5" width="5" height="9" fill="#f2e6b0"/>
  <g fill="#e6ecf8"><rect x="116.500" y="632.5" width="1.500" height="1.500"/><rect x="130.500" y="632.5" width="1.500" height="1.500"/><rect x="116.500" y="648" width="1.500" height="1.500"/><rect x="130.500" y="648" width="1.500" height="1.500"/></g>
  <rect x="117" y="711.7" width="3" height="2.600" fill="#b9d69a"/><rect x="120" y="711.7" width="3" height="2.600" fill="#f0d690"/><rect x="123" y="711.7" width="2.500" height="2.600" fill="#b9d69a"/><rect x="125" y="709.5" width="10" height="7" fill="#dde4f3"/><rect x="134.500" y="708.5" width="5" height="9" fill="#f2e6b0"/>
  <g fill="#e6ecf8"><rect x="116.500" y="704.5" width="1.500" height="1.500"/><rect x="130.500" y="704.5" width="1.500" height="1.500"/><rect x="116.500" y="720" width="1.500" height="1.500"/><rect x="130.500" y="720" width="1.500" height="1.500"/></g>
  <rect x="117" y="782.7" width="3" height="2.600" fill="#b9d69a"/><rect x="120" y="782.7" width="3" height="2.600" fill="#f0d690"/><rect x="123" y="782.7" width="2.500" height="2.600" fill="#b9d69a"/><rect x="125" y="780.5" width="10" height="7" fill="#dde4f3"/><rect x="134.500" y="779.5" width="5" height="9" fill="#f2e6b0"/>
  <g fill="#e6ecf8"><rect x="116.500" y="775.5" width="1.500" height="1.500"/><rect x="130.500" y="775.5" width="1.500" height="1.500"/><rect x="116.500" y="791" width="1.500" height="1.500"/><rect x="130.500" y="791" width="1.500" height="1.500"/></g>
  <rect x="353" y="457" width="6" height="9" fill="#f3e8bd"/><rect x="359" y="460" width="8" height="3" fill="#dbe0ee"/>
  <!-- ===== right bay ===== -->
  <rect x="382" y="368" width="75.500" height="462" fill="#e3e6e6"/>
  <rect x="382" y="368" width="75.500" height="16" fill="#f3dccb"/>
  <rect x="383" y="513" width="48" height="25" fill="#d7dada"/>
  <path d="M382,369.500 L440,369.500 Q455,371 455.500,386 L455.500,800" fill="none" stroke="#c3cbe6" stroke-width="3"/>
  <rect x="382.500" y="384" width="65" height="84" fill="#ef9c9d" opacity="0.850"/>
  <rect x="404" y="393" width="43.500" height="78" fill="#f6d9b4"/>
  <rect x="406.500" y="396" width="38.500" height="72" fill="#e6e9ef"/>
  <rect x="385" y="428" width="12" height="30" fill="#e8e4e0" opacity="0.800"/>
  <rect x="395" y="416.500" width="10.500" height="40" fill="#e9cfd9"/>
  <rect x="405.500" y="417.500" width="17" height="43" fill="#d6d8d8"/>
  <g fill="#f5f6f6"><circle cx="410" cy="422.500" r="1.300"/><circle cx="418" cy="422.500" r="1.300"/><circle cx="410" cy="455.500" r="1.300"/><circle cx="418" cy="455.500" r="1.300"/></g>
  <rect x="422.500" y="413.500" width="14" height="47" fill="#e0ebdc"/>
  <rect x="437.300" y="401.500" width="13" height="120" fill="#e9efe7"/>
  <path d="M399,417 Q399,407 405,406 Q411,406 411,417" fill="none" stroke="#e7c9d3" stroke-width="1.300"/>
  <path d="M407,417 Q408,404 414,405 Q418,406 418,417" fill="none" stroke="#f0b8b4" stroke-width="1.300"/>
  <path d="M394,416 Q398,386 420,384 L444,384" fill="none" stroke="#dfe1ea" stroke-width="1.300"/>
  <path d="M420,388 L444,386" fill="none" stroke="#c7c4e6" stroke-width="2.400"/>
  <path d="M421,392 Q423,408 427,414" fill="none" stroke="#d2ccc8" stroke-width="1.200"/>
  <path d="M430,400 L436,409" fill="none" stroke="#f2a9a4" stroke-width="1.300"/>
  <rect x="419" y="372" width="3.400" height="16" rx="1.700" fill="#f8f8f7"/>
  <rect x="422.500" y="411" width="13" height="5" fill="#f5dcb4"/>
  <!-- cables small -->
  <g fill="none" stroke="#6fa7bf" stroke-width="2.200" stroke-linecap="round">
    <path d="M421,468 L421,455 Q422,444 436,438 Q452,434 456,426 Q458,420 452,419 L441,419"/>
    <path d="M429.500,468 L429.500,456 Q431,446 442,441 Q455,436 453,428 Q452,424 456,421"/>
    <path d="M438,468 L438,452 Q440,446 447,445 Q455,443 453,436"/>
  </g>
  <path d="M430,419.300 L441,419.300" stroke="#5b6f78" stroke-width="0.800"/>
  <!-- gray breakers -->
  <rect x="382.500" y="470" width="35" height="41" fill="#e1e3e2"/>
  <rect x="382.500" y="483" width="35" height="1" fill="#d2d4d3"/><rect x="382.500" y="501" width="35" height="1.600" fill="#f3f4f3"/>
  <g fill="#f3b5b3"><rect x="391" y="511" width="3.500" height="5"/><rect x="399.500" y="511" width="3.500" height="5"/><rect x="408" y="511" width="3.500" height="5"/></g>
  <g fill="none" stroke="#eff0f0" stroke-width="2"><path d="M392.500,516 Q392,534 412,536"/><path d="M401,516 Q402,530 420,533"/><path d="M409.500,516 Q411,526 424,529"/></g>
  <g fill="#f2b3b1"><rect x="384.500" y="456" width="3" height="13"/><rect x="389.500" y="456" width="3" height="13"/><rect x="396" y="458" width="3" height="11"/></g>
  <!-- small surge (blue) -->
  <g fill="#5f9bc0"><rect x="420" y="462" width="3.400" height="8"/><rect x="428.500" y="462" width="3.400" height="8"/><rect x="437" y="462" width="3.400" height="8"/></g>
  <rect x="417" y="470.200" width="26" height="42.500" fill="#5fa3d0"/>
  <rect x="417" y="470.200" width="26" height="2" fill="#4e8db8"/>
  <rect x="434.800" y="470.200" width="8.200" height="42.500" fill="#6aa7c4"/>
  <rect x="417" y="493" width="26" height="1" fill="#5595c0"/><rect x="417" y="505" width="26" height="1" fill="#4f8fba"/>
  <rect x="425.500" y="470.200" width="0.700" height="42.500" fill="#4d8fbb"/>
  <rect x="430.500" y="477" width="5" height="5.500" fill="#4f78c6"/>
  <circle cx="439.300" cy="480" r="1.900" fill="#4a73c4"/>
  <rect x="418.500" y="512.500" width="6" height="3.500" fill="#5b9fcb"/><circle cx="429" cy="513.500" r="1.800" fill="#5b9fcb"/>
  <path d="M420,517 Q424,528 437,527 L450,527" fill="none" stroke="#b8c9dd" stroke-width="1"/>
  <rect x="417" y="523" width="22" height="12" fill="#f5dfc0" opacity="0.900"/>
  <!-- pink block right -->
  <rect x="383" y="537.500" width="48" height="45" rx="3" fill="#f6c9c8"/>
  <g fill="#f9dedc" stroke="#f4c5c3" stroke-width="0.600"><circle cx="396" cy="552.500" r="6.300"/><circle cx="419.500" cy="552.500" r="6.300"/><circle cx="396" cy="573.500" r="6.300"/><circle cx="419.500" cy="573.500" r="6.300"/></g>
  <rect x="431" y="545" width="6.500" height="7" fill="#c9c1ea"/>
  <rect x="431" y="613" width="6.500" height="7" fill="#c9c1ea"/>
  <rect x="431" y="670" width="6.500" height="7" fill="#c9c1ea"/>
  <rect x="431" y="738" width="6.500" height="7" fill="#c9c1ea"/>
  <circle cx="434.500" cy="576" r="2.500" fill="#f3bfc3"/>
  <rect x="437.300" y="540" width="15" height="92" fill="#e9efe7"/>
  <rect x="437.300" y="660" width="15" height="92" fill="#e9efe7"/>
  <circle cx="443" cy="549.500" r="2" fill="#b9b0e6"/><circle cx="443" cy="618" r="2" fill="#b9b0e6"/><circle cx="443" cy="676" r="2" fill="#b9b0e6"/><circle cx="443" cy="744" r="2" fill="#b9b0e6"/>
  <g fill="#e8c6de"><rect x="451" y="548" width="4" height="8"/><rect x="451" y="608" width="4" height="8"/><rect x="451" y="622" width="4" height="8"/><rect x="451" y="665" width="4" height="8"/><rect x="451" y="733" width="4" height="8"/></g>
  <!-- orange busbars -->
  <rect x="396.500" y="584" width="2.200" height="14" fill="#f2c98a"/>
  <circle cx="388" cy="592" r="2.800" fill="#f6c4c4"/><circle cx="416" cy="592" r="2.800" fill="#f6c4c4"/>
  <rect x="383" y="594" width="48" height="15" fill="#eceef0"/>
  <rect x="393" y="598" width="4" height="20" fill="#f6dfc0"/>
  <path d="M422,584 L437,584 L437,596 L431,596 L431,609 L421,609 Z" fill="#f6dfc0"/>
  <rect x="393" y="615" width="38" height="18.500" fill="#f6dfc0"/>
  <path d="M429,620 L437,620 L437,632 L452,632 L452,646 L440,646 L440,658 L429,658 Z" fill="#f4dcbc"/>
  <rect x="383" y="640.500" width="48" height="17.500" fill="#f6dfc0"/>
  <rect x="440" y="646" width="8" height="12" fill="#f4e4ee"/>
  <!-- pcb -->
  <rect x="423" y="672" width="14.500" height="66" fill="#dde9d6"/>
  <path d="M438,752 L436,790 M441,752 L441,792 M444,752 L447,790" stroke="#f7f7f5" stroke-width="1.400" fill="none"/>
  <path d="M432,772 L440,794 L457,799 L457,760 L446,756 Z" fill="#d4d9d6" opacity="0.700"/>
  <rect x="452" y="752" width="5.500" height="44" fill="#bdc6e2" opacity="0.800"/>
  <!-- bottom trays -->
  <path d="M45,808 L105,808 L105,820.500 L114,820.500 L114,829 L32,829 Z" fill="#d6d7cf"/>
  <rect x="56" y="806" width="49" height="3" fill="#d8d9d8"/>
  <path d="M30,808 L56,808 L44,829 L30,829 Z" fill="#e9dbe2"/>
  <rect x="35" y="819" width="7" height="4" rx="1" fill="#f3a9ad"/><rect x="45" y="806" width="7" height="4" rx="1" fill="#f3a9ad"/>
  <rect x="373.500" y="811" width="78" height="18" fill="#d6d7cf"/>
  <rect x="382" y="806" width="60" height="5" fill="#dadbda"/>
  <rect x="440" y="795" width="17.500" height="34" fill="#eddfe6"/>
  <rect x="445" y="807" width="7" height="4" rx="1" fill="#f3a9ad"/><rect x="450" y="819" width="7" height="4" rx="1" fill="#f3a9ad"/>
  <!-- bottom green -->
  <rect x="20" y="829.500" width="447" height="10.500" fill="#c1e2bb"/>
  <rect x="122.500" y="830" width="17" height="5" fill="#f7f2d6"/>
  <rect x="348" y="830" width="17" height="5" fill="#f7f2d6"/>
  <!-- frame slots lower -->
  <g fill="#d6d9d8"><rect x="8" y="384" width="4.500" height="13" rx="1.500"/><rect x="8" y="408" width="4.500" height="26" rx="1.500"/><rect x="8" y="454" width="4.500" height="36" rx="1.500"/><rect x="8" y="535" width="4.500" height="13" rx="1.500"/><rect x="8" y="606" width="4.500" height="36" rx="1.500"/><rect x="8" y="656" width="4.500" height="13" rx="1.500"/><rect x="8" y="713" width="4.500" height="28" rx="1.500"/><rect x="8" y="810" width="4.500" height="12" rx="1.500"/>
  <rect x="475.500" y="384" width="4.500" height="13" rx="1.500"/><rect x="475.500" y="408" width="4.500" height="26" rx="1.500"/><rect x="475.500" y="454" width="4.500" height="36" rx="1.500"/><rect x="475.500" y="535" width="4.500" height="13" rx="1.500"/><rect x="475.500" y="606" width="4.500" height="36" rx="1.500"/><rect x="475.500" y="656" width="4.500" height="13" rx="1.500"/><rect x="475.500" y="713" width="4.500" height="28" rx="1.500"/><rect x="475.500" y="810" width="4.500" height="12" rx="1.500"/></g>
  <path d="M4,499 L14,501 L4,503 Z" fill="#ffffff"/><rect x="12" y="497" width="3.500" height="8" fill="#bfe3b6"/>
  <path d="M483,499 L473,501 L483,503 Z" fill="#ffffff"/><rect x="472" y="497" width="3.500" height="8" fill="#bfe3b6"/>
</g>

<!-- ================= CALLOUT ================= -->
<g id="callout">
  <g clip-path="url(#callclip)">
    <rect x="512" y="193" width="553" height="608" fill="#e2e4e3"/>
    <!-- top-left strip + red -->
    <rect x="512" y="193" width="100" height="18" fill="#e2d6dc"/>
    <rect x="512" y="205" width="100" height="6" fill="#d9d3d8"/>
    <rect x="512" y="210.500" width="97.700" height="125" fill="#e69a99"/>
    <path d="M512,319 L563,319 Q569,319 569,325 L569,336 L512,336 Z" fill="#e3d8d0"/>
    <rect x="523" y="326" width="31" height="7" rx="3.500" fill="#e9999b"/>
    <rect x="517" y="290" width="3" height="30" fill="#e7c9cc"/>
    <!-- lower gray module -->
    <rect x="512" y="335" width="191" height="406" fill="#e2e4e3"/>
    <rect x="512" y="335" width="191" height="2" fill="#dadcdb"/>
    <rect x="512" y="433" width="191" height="4.500" fill="#dcdedd"/>
    <g fill="#d3d5d4"><rect x="525" y="435" width="26" height="2.600"/><rect x="607" y="435" width="26" height="2.600"/><rect x="688" y="435" width="15" height="2.600"/></g>
    <g fill="#f3c5c6"><rect x="512" y="446" width="22" height="18.500"/><rect x="542" y="446" width="73.800" height="18.500"/><rect x="623.400" y="446" width="73.600" height="18.500"/></g>
    <rect x="512" y="473.500" width="188" height="13" fill="#d9dada"/>
    <rect x="537" y="437" width="1" height="204" fill="#d6d8d7"/><rect x="619.300" y="437" width="1" height="204" fill="#d6d8d7"/>
    <g fill="#f5f7f6"><rect x="512" y="612.300" width="25" height="24.400"/><rect x="539.500" y="612.300" width="79" height="24.400"/><rect x="621" y="612.300" width="79.500" height="24.400"/></g>
    <rect x="512" y="636.700" width="191" height="3" fill="#dcdedd"/>
    <rect x="512" y="643" width="191" height="2" fill="#d9dbda"/>
    <rect x="512" y="735" width="191" height="6" fill="#dcdedd"/>
    <!-- back area between red and blue -->
    <rect x="609.700" y="245" width="100" height="91" fill="#e4ebf2"/>
    <rect x="609.700" y="245" width="6.500" height="91" fill="#f4ebe3"/>
    <rect x="614.500" y="245" width="1" height="91" fill="#e5dcd4"/>
    <rect x="616.200" y="245" width="7" height="91" fill="#f8f1e8"/>
    <rect x="623" y="262" width="17" height="74" fill="#f9e7c6"/>
    <rect x="623" y="305" width="17" height="3.800" fill="#f3c3c1"/>
    <rect x="623" y="262" width="4" height="8" fill="#f1c6c6"/>
    <rect x="640" y="299" width="48" height="37" fill="#c9e7c3"/>
    <rect x="640" y="304" width="48" height="3.500" fill="#b9dcb3"/>
    <rect x="645" y="318" width="5" height="12" rx="1" fill="#f5e2b4"/>
    <rect x="664.700" y="245" width="27.200" height="31" fill="#dbe9d8"/>
    <rect x="664.700" y="271" width="27.200" height="4.500" fill="#c9d6c7"/>
    <circle cx="676" cy="253.500" r="6.300" fill="#e9eeea"/>
    <rect x="718" y="245" width="27" height="31" fill="#dbe9d8"/>
    <circle cx="727" cy="253.500" r="6.300" fill="#e9eeea"/>
    <rect x="718" y="271" width="27" height="4.500" fill="#c9d6c7"/>
    <!-- right of top: green band + cream area -->
    <rect x="742" y="193" width="128.200" height="30" fill="#dfe9d9"/>
    <rect x="742" y="223" width="128.200" height="119" fill="#f5e3c8"/>
    <rect x="742" y="223" width="14" height="119" fill="#e6ebe6"/>
    <rect x="756" y="223" width="20" height="78" fill="#e4e6e6"/>
    <rect x="839" y="223" width="31.200" height="26" fill="#dfe9d8"/>
    <rect x="839" y="248.600" width="31.200" height="53.400" fill="#c9e2f6"/>
    <rect x="842" y="251" width="30" height="52" rx="5" fill="none" stroke="#dbeaf6" stroke-width="1.500"/>
    <rect x="846" y="230" width="12" height="8" rx="3" fill="#bddcf5"/>
    <path d="M852,261 Q854,282 870.200,290" fill="none" stroke="#d9dcdc" stroke-width="2"/>
    <!-- gray cable C : U loop -->
    <path d="M757,240 L761,292 Q766,318 780,318 Q798,316 812,268" fill="none" stroke="#dcdfdf" stroke-width="22"/>
    <path d="M753,240 L757,296" fill="none" stroke="#c9cbcb" stroke-width="13"/>
    <path d="M770,300 Q774,327 790,322 Q804,314 812,292" fill="none" stroke="#e6e8e8" stroke-width="5"/>
    <path d="M776,223 L794,223 L800,243 L800,260.700 L769.500,260.700 L769.500,243 Z" fill="#cbcccc"/>
    <rect x="769.500" y="243" width="30.500" height="2" fill="#d3d4d4"/>
    <path d="M858,223 L870.200,223 L870.200,260.700 L852,260.700 L852,243 Z" fill="#cbcccc"/>
    <!-- gray cable A -->
    <path d="M632,240 Q638,290 676,318 Q700,332 722,339" fill="none" stroke="#d6dada" stroke-width="23"/>
    <path d="M626,240 Q633,290 672,318" fill="none" stroke="#e3e6e6" stroke-width="6"/>
    <path d="M642,240 Q650,284 690,314" fill="none" stroke="#cdd1d1" stroke-width="3"/>
    <rect x="648" y="245" width="8" height="18" fill="#cfd1d1"/>
    <!-- wires -->
    <path d="M676,298 L676,345 Q678,368 693,368 Q703,366 706,352" fill="none" stroke="#c4c6c6" stroke-width="8"/>
    <path d="M695.500,298 L695.500,340" fill="none" stroke="#cfd0cf" stroke-width="4"/>
    <rect x="681" y="279" width="6" height="20" fill="#f2dfba"/>
    <path d="M669,300 L669,286 Q669,278 675.500,278 Q682,278 682,286 L682,300 Z" fill="#f8e6c6"/>
    <path d="M692,300 L692,286 L699,286 L699,300 Z" fill="#f6e3c2"/>
    <!-- white cable B -->
    <rect x="693.700" y="245" width="25.500" height="23" fill="#dfe2e3"/>
    <path d="M706.500,266 Q707,300 722,320 Q735,338 775,342" fill="none" stroke="#f1f2f2" stroke-width="25"/>
    <path d="M699,268 Q700,300 714,322" fill="none" stroke="#fafafa" stroke-width="6"/>
    <path d="M716.500,268 Q718,290 728,306" fill="none" stroke="#e2e4e4" stroke-width="4"/>
    <!-- upper gray module -->
    <rect x="578" y="193" width="164" height="52.500" fill="#d2d3d2"/>
    <rect x="578" y="221" width="164" height="24.500" fill="#c9cac9"/>
    <rect x="578" y="243.500" width="164" height="2" fill="#d0d1d0"/>
    <circle cx="619" cy="197" r="16" fill="#e9eeec"/>
    <rect x="660" y="185" width="78" height="27.500" rx="7" fill="#f4f6f5"/>
    <text x="699" y="199.300" font-size="13" fill="#c3c5c5" text-anchor="middle">Surge</text>
    <!-- right panel -->
    <rect x="870.200" y="193" width="126" height="608" fill="#ebf0e9"/>
    <rect x="979" y="193" width="6" height="608" fill="#f3f8f2"/>
    <rect x="985" y="193" width="11" height="608" fill="#e6ece5"/>
    <!-- pink / lavender -->
    <rect x="996" y="193" width="31" height="608" fill="#edf3ec"/>
    <rect x="996" y="193" width="31" height="47" fill="#d8c7d1"/>
    <rect x="1010" y="193" width="30" height="20" fill="#e2d1dc"/>
    <rect x="996" y="255" width="30" height="74" fill="#d6c6cf"/>
    <rect x="1009" y="281" width="18" height="32" fill="#e0d0da"/>
    <rect x="996" y="423" width="30.500" height="28.500" fill="#c4c2e2"/>
    <rect x="996" y="663.500" width="31" height="73.500" fill="#d6c6cf"/>
    <rect x="996" y="750.600" width="31" height="50" fill="#d6c6cf"/>
    <rect x="1010" y="778" width="17" height="22" fill="#e2d1dc"/>
    <rect x="1025.500" y="193" width="40" height="608" fill="url(#lavg)"/>
    <rect x="1027" y="193" width="38" height="20" fill="#e2d1dc"/>
    <rect x="1010" y="689.700" width="52" height="21" fill="#e3d2dc"/>
    <!-- AC In label -->
    <rect x="584" y="362" width="77.500" height="50" rx="8" fill="#f4f6f5"/>
    <text x="623" y="383.900" font-size="13" fill="#c5c7c7" text-anchor="middle">AC In</text>
    <text x="623" y="400.200" font-size="13" fill="#c5c7c7" text-anchor="middle">Surge</text>
    <!-- screws -->
    <g>
      <circle cx="579" cy="700.500" r="17.300" fill="#dcdedd"/><circle cx="579" cy="700.500" r="15.800" fill="#efefef"/>
      <path d="M568,689.500 L590,711.500 M590,689.500 L568,711.500" stroke="#f5f6f6" stroke-width="7" opacity="0.700"/>
      <circle cx="660" cy="700.500" r="17.300" fill="#dcdedd"/><circle cx="660" cy="700.500" r="15.800" fill="#efefef"/>
      <path d="M649,689.500 L671,711.500 M671,689.500 L649,711.500" stroke="#f5f6f6" stroke-width="7" opacity="0.700"/>
    </g>
    <!-- darker bottom area -->
    <rect x="512" y="741" width="250" height="60" fill="#ccd1d1"/>
    <rect x="512" y="740" width="191" height="4" fill="#d8dbdb"/>
    <g>
      <path d="M558.500,801 L558.500,772 L565,750 Q565,747 568,747 L591,747 Q594,747 594,750 L600.500,772 L600.500,801 Z" fill="url(#pinkg)"/>
      <rect x="566" y="747" width="27" height="3" fill="#e2e5e5"/>
      <path d="M640,801 L640,772 L646.500,750 Q646.500,747 649.500,747 L673,747 Q676,747 676,750 L682.700,772 L682.700,801 Z" fill="url(#pinkg)"/>
      <rect x="647.500" y="747" width="27" height="3" fill="#e2e5e5"/>
    </g>
    <!-- cream under body -->
    <rect x="777" y="745" width="93.200" height="56" fill="#f5e3c8"/>
    <rect x="760.600" y="783" width="20" height="18" fill="#f5e3c8"/>
    <!-- ===== blue surge body ===== -->
    <!-- tab + drop below -->
    <rect x="707.400" y="748" width="69.600" height="36" fill="#6aaad4"/>
    <rect x="707.400" y="779" width="69.600" height="5" fill="#2f6183"/>
    <path d="M801,748 L848,748 L838,772 Q832,779 824.500,779 Q817,779 811,772 Z" fill="#69a9d3"/>
    <!-- cables above body -->
    <rect x="726" y="193" width="25.500" height="108" fill="url(#cableg)"/>
    <rect x="726" y="277" width="25.500" height="24" fill="#86b7e0"/>
    <rect x="726" y="193" width="16" height="53" fill="#4f7f9c"/>
    <path d="M726,245 L742,245 Q742,280 735,301 L726,301 Z" fill="#5b8aa8"/>
    <path d="M742,277 L751.500,277 L751.500,301 L735,301 Q740,290 742,277 Z" fill="#7cb5e0"/>
    <rect x="812" y="193" width="26.700" height="108" fill="url(#cableg)"/>
    <rect x="812" y="277" width="26.700" height="24" fill="#88b9e1"/>
    <rect x="822" y="222" width="4" height="60" fill="#86b3cc"/>
    <rect x="893.800" y="193" width="27.100" height="108" fill="url(#cableg)"/>
    <!-- ferrules -->
    <path d="M717,300 L760.600,300 L760.600,323 L750,342 L728,342 L717,323 Z" fill="#4f83a6"/>
    <path d="M738,300 L760.600,300 L760.600,323 L752,330 Q742,318 738,300 Z" fill="#477a9d"/>
    <path d="M741,330 L752,320 L758,332 L750,342 L744,342 Z" fill="#69aee0"/>
    <path d="M803.500,300 L847.400,300 L847.400,323 L841,342 L811,342 L803.500,323 Z" fill="url(#ferg)"/>
    <path d="M803.500,323 L847.400,323 L841,342 L811,342 Z" fill="#4b83ab" opacity="0.450"/>
    <path d="M886,300 L929.300,300 L929.300,323 L922,342 L894,342 L886,323 Z" fill="url(#ferg3)"/>
    <path d="M886,323 L929.300,323 L922,342 L894,342 Z" fill="#4d7f99" opacity="0.450"/>
    <!-- body -->
    <rect x="703" y="341.500" width="244" height="409.500" fill="#69a9d3"/>
    <rect x="703" y="341.500" width="244" height="17.500" fill="url(#bandg)"/>
    <!-- cable seen through body -->
    <path d="M703,341.500 L725.600,341.500 Q712,352 703,372 Z" fill="#3f7195" opacity="0.800"/>
    <path d="M758.500,341.500 C775,352 810,366 870.200,381.700 L870.200,407.500 C810,396 760,375 725.600,341.500 Z" fill="#6aa1c9"/>
    <path d="M752,341.500 C770,354 808,370 870.200,386 L870.200,396 C808,384 766,366 740,341.500 Z" fill="#85b5d8" opacity="0.800"/>
    <path d="M870.200,407.500 C810,396 760,375 725.600,341.500 L732,341.500 C764,371 812,391 870.200,402 Z" fill="#5a92bb" opacity="0.900"/>
    <rect x="703" y="341.500" width="167.200" height="17" fill="#3f7499" opacity="0.450"/>
    <!-- bands -->
    <rect x="703" y="444" width="244" height="206" fill="#64a3ce"/>
    <rect x="716.500" y="482" width="66" height="129.500" fill="#69a9d4"/>
    <rect x="799" y="482" width="66" height="129.500" fill="#69a9d4"/>
    <rect x="881.500" y="482" width="65.500" height="129.500" fill="#69a9d4"/>
    <rect x="703" y="444" width="244" height="1.200" fill="#6fb0da"/>
    <rect x="785.200" y="444" width="1.200" height="206" fill="#4e8cb5"/>
    <rect x="867.300" y="444" width="1.200" height="206" fill="#4e8cb5"/>
    <g fill="#2f6a8e"><rect x="716.800" y="634.300" width="66" height="1.400"/><rect x="799" y="634.300" width="66" height="1.400"/><rect x="881.500" y="634.300" width="65.500" height="1.400"/></g>
    <!-- dashed circles -->
    <g fill="none" stroke="#5a8fb2" stroke-width="0.700" stroke-dasharray="3 1.500" opacity="0.600">
      <circle cx="742.500" cy="389" r="17.500"/><circle cx="825" cy="389" r="17.500"/><circle cx="907" cy="389" r="17.500"/>
      <circle cx="824" cy="704" r="17.500"/><circle cx="907" cy="704" r="17.500"/>
    </g>
    <!-- dark blue square + hole -->
    <rect x="817" y="409" width="53.200" height="56" fill="#577fc6"/>
    <path d="M870.200,418 L859,418 Q856,418 856,421 L856,453 Q856,456 859,456 L870.200,456 Z" fill="#4f7bc3"/>
    <!-- outlined rect bottom -->
    <path d="M803.500,683 L927.500,683 L929,725 L803.500,725 Z" fill="none" stroke="#3e708f" stroke-width="1"/>
    <!-- DC In label -->
    <rect x="713.400" y="675.300" width="77" height="50" rx="8" fill="#86b4d8"/>
    <text x="752" y="697.800" font-size="13" fill="#6f9cbc" text-anchor="middle">DC In</text>
    <text x="752" y="713.300" font-size="13" fill="#6f9cbc" text-anchor="middle">Surge</text>
    <!-- bottom dark band -->
    <rect x="703" y="735" width="244" height="16" fill="url(#bandg2)"/>
    <!-- teal overlay on right third (panel in front) -->
    <rect x="870.200" y="341.500" width="76.800" height="409.500" fill="#8cb8ae" opacity="0.420"/>
    <!-- hole with ring -->
    <circle cx="917" cy="435" r="20" fill="#6f9fc0"/>
    <circle cx="917" cy="435" r="12.500" fill="#8aa4ae"/>
    <circle cx="917" cy="435" r="10.800" fill="#4f7dc6"/>
    <!-- black wire -->
    <path d="M720.500,746 Q720,775 728,801" fill="none" stroke="#3c5f78" stroke-width="8" stroke-linecap="round" opacity="0.850"/>
  </g>
  <rect x="514.6" y="195.2" width="547.4" height="603" rx="58" ry="58" fill="none" stroke="#e5612b" stroke-width="4.5"/>
  <rect x="431" y="494" width="83" height="4.5" fill="#e5612b"/>
</g>
</svg>
</body>
</html>
